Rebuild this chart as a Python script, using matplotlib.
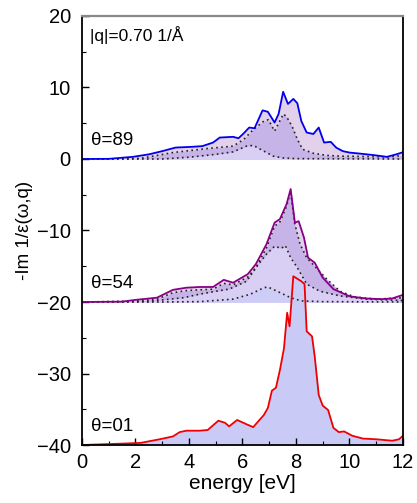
import numpy as np
import matplotlib
matplotlib.use('Agg')
import matplotlib.pyplot as plt
from matplotlib.ticker import MultipleLocator

plt.rcParams['font.family'] = ['Liberation Sans', 'DejaVu Sans']

# ------------------------
# data (values relative to each curve's offset)
# ------------------------

# theta = 89, offset 0
x89 = [0, 1.0, 1.9, 2.5, 3.0, 3.5, 4.1, 4.5, 4.9, 5.15, 5.65, 5.85, 6.05, 6.25, 6.45,
       6.75, 6.95, 7.2, 7.35, 7.52, 7.7, 7.9, 8.05, 8.2, 8.4, 8.65, 8.85, 9.05, 9.3,
       9.5, 9.75, 10.0, 10.4, 10.9, 11.4, 11.75, 12.0]
y89 = [0, 0.02, 0.3, 0.65, 1.1, 1.6, 1.7, 1.8, 2.3, 3.0, 3.1, 2.9, 3.6, 4.4, 4.3,
       6.8, 6.6, 5.1, 6.3, 9.4, 7.7, 8.4, 7.8, 5.3, 3.7, 3.5, 4.4, 2.3, 2.4,
       1.6, 1.1, 0.9, 0.75, 0.55, 0.3, 0.65, 0.95]
x89_c2 = [0, 1.5, 2.2, 3.4, 4.65, 5.65, 6.05, 6.4, 6.8, 6.97, 7.2, 7.53, 7.65, 7.85,
          8.05, 8.25, 8.65, 9.15, 9.65, 10.5, 11.5, 12.0]
y89_c2 = [0, 0, 0.1, 0.9, 1.45, 1.8, 2.75, 4.1, 5.3, 5.5, 3.9, 6.3, 5.9, 4.6,
          2.75, 1.35, 0.8, 0.5, 0.4, 0.35, 0.3, 0.5]
x89_c1 = [0, 3.0, 4.0, 5.0, 5.65, 6.15, 6.4, 6.8, 7.15, 7.5, 8.0, 12.0]
y89_c1 = [0, 0, 0.25, 0.65, 1.0, 1.8, 1.9, 1.1, 0.4, 0.15, 0.05, 0]

# theta = 54, offset -20
x54 = [0, 1.5, 2.0, 2.8, 3.4, 3.9, 4.4, 4.9, 5.3, 5.65, 6.2, 6.5, 6.9, 7.2, 7.4,
       7.65, 7.8, 7.96, 8.1, 8.3, 8.45, 8.7, 9.0, 9.4, 10.0, 10.6, 11.2, 11.6, 12.0]
y54 = [0, 0.05, 0.3, 0.6, 1.7, 2.0, 2.1, 2.1, 3.1, 2.7, 3.9, 5.3, 8.1, 11.1, 11.6,
       13.7, 15.8, 11.1, 11.3, 9.0, 6.2, 5.5, 3.4, 1.8, 0.8, 0.5, 0.4, 0.5, 1.0]
x54_c3 = [0, 2.0, 2.8, 3.4, 3.9, 4.4, 4.9, 5.3, 5.65, 6.2, 6.5, 6.9, 7.2, 7.4, 7.65,
          7.8, 7.95, 8.15, 8.4, 8.7, 9.15, 9.65, 10.2, 11.0, 12.0]
y54_c3 = [0, 0.1, 0.4, 1.3, 1.6, 1.7, 1.8, 2.6, 2.4, 3.5, 4.8, 7.6, 10.6, 11.2, 13.4,
          15.5, 11.0, 8.1, 6.2, 5.0, 3.2, 1.5, 0.7, 0.4, 0.6]
x54_c2 = [0, 2.5, 3.8, 4.4, 5.0, 5.5, 6.15, 6.6, 6.9, 7.2, 7.45, 7.6, 7.8, 8.05,
          8.4, 8.9, 9.65, 10.6, 12.0]
y54_c2 = [0, 0.1, 0.6, 1.1, 1.5, 1.8, 2.9, 5.3, 6.7, 7.8, 7.5, 7.9, 6.2, 4.8,
          2.5, 1.5, 0.85, 0.4, 0.2]
x54_c1 = [0, 3.0, 4.4, 5.65, 6.3, 6.8, 6.95, 7.3, 7.8, 8.2, 9.0, 12.0]
y54_c1 = [0, 0, 0.05, 0.4, 1.1, 2.0, 2.1, 1.5, 0.6, 0.15, 0.05, 0]

# theta = 01, offset -40
x01 = [0, 1.55, 2.2, 2.9, 3.4, 3.65, 3.9, 4.4, 4.7, 5.1, 5.35, 5.5, 5.8, 6.15, 6.4,
       6.8, 6.95, 7.1, 7.25, 7.4, 7.55, 7.67, 7.76, 7.9, 8.2, 8.32, 8.4, 8.6, 8.7,
       8.85, 9.0, 9.2, 9.4, 9.6, 9.8, 10.1, 10.5, 11.0, 11.6, 11.85, 12.0]
y01 = [0, 0.2, 0.3, 0.8, 1.2, 1.8, 2.0, 2.0, 2.1, 3.4, 3.1, 2.6, 3.5, 2.9, 2.5,
       4.2, 5.2, 7.6, 8.0, 10.5, 13.5, 18.5, 16.6, 23.6, 22.9, 22.5, 15.9, 15.2, 12.4,
       7.0, 5.5, 4.9, 2.4, 1.8, 1.9, 1.3, 0.9, 0.8, 0.6, 0.8, 1.3]

offsets = [0, -20, -40]
labels = ['\u03b8=89', '\u03b8=54', '\u03b8=01']

# colours
c_pink = '#e3d0ea'
c_dark = '#c6b3e7'
c_lav = '#d9cff4'
c_blue = '#cdcdf8'

fig = plt.figure(figsize=(4.17, 5.03), dpi=100)
ax = fig.add_axes([0.1966, 0.1153, 0.7698, 0.8529])

dots = dict(color='#222222', lw=1.2, ls=(0, (1, 2)))

# theta = 89
o = offsets[0]
ax.fill_between(x89, o, np.array(y89) + o, color=c_pink, lw=0)
ax.fill_between(x89_c2, o, np.array(y89_c2) + o, color=c_dark, lw=0)
ax.fill_between(x89_c1, o, np.array(y89_c1) + o, color=c_lav, lw=0)
ax.plot(x89_c1, np.array(y89_c1) + o, **dots)
ax.plot(x89_c2, np.array(y89_c2) + o, **dots)
ax.plot(x89, np.array(y89) + o, color='#0000ee', lw=1.3)

# theta = 54
o = offsets[1]
ax.fill_between(x54, o, np.array(y54) + o, color=c_pink, lw=0)
ax.fill_between(x54_c3, o, np.array(y54_c3) + o, color=c_dark, lw=0)
ax.fill_between(x54_c2, o, np.array(y54_c2) + o, color=c_lav, lw=0)
ax.fill_between(x54_c1, o, np.array(y54_c1) + o, color=c_blue, lw=0)
ax.plot(x54_c1, np.array(y54_c1) + o, **dots)
ax.plot(x54_c2, np.array(y54_c2) + o, **dots)
ax.plot(x54_c3, np.array(y54_c3) + o, **dots)
ax.plot(x54, np.array(y54) + o, color='#880088', lw=1.3)

# theta = 01
o = offsets[2]
ax.fill_between(x01, o, np.array(y01) + o, color='#cacaf7', lw=0)
ax.plot(x01, np.array(y01) + o, color='#ee0000', lw=1.3)

for lab, o in zip(labels, offsets):
    ax.text(0.35, o + 2.6, lab, fontsize=13.5, va='center', ha='left')
ax.text(0.3, 17.3, '|q|=0.70 1/\u00c5', fontsize=12.5, va='center', ha='left')

ax.set_xlim(0, 12)
ax.set_ylim(-40, 20)
ax.xaxis.set_major_locator(MultipleLocator(2))
ax.xaxis.set_minor_locator(MultipleLocator(1))
ax.yaxis.set_major_locator(MultipleLocator(10))
ax.yaxis.set_minor_locator(MultipleLocator(5))
ax.tick_params(which='both', direction='in', top=False, right=False, labelsize=14.5)
ax.tick_params(axis='y', which='major', pad=8)
ax.tick_params(axis='x', which='major', pad=6)
ax.tick_params(which='major', length=5, width=1)
ax.tick_params(which='minor', length=3, width=0.8)

for s in ['left', 'bottom', 'right']:
    ax.spines[s].set_linewidth(1.3)
ax.spines['top'].set_color('#888888')
ax.spines['top'].set_linewidth(1.6)

ax.set_xlabel('energy [eV]', fontsize=15, labelpad=1)
ax.set_ylabel('-Im 1/\u03b5(\u03c9,q)', fontsize=13.5, labelpad=3)

fig.savefig('out.png', dpi=100)
